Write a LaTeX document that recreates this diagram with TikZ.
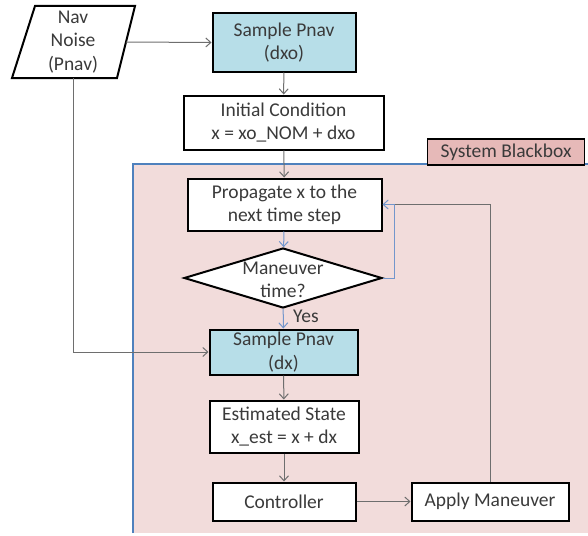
\documentclass[tikz,border=0pt]{standalone}
\usepackage{fontspec}
\setmainfont{Carlito}
\usetikzlibrary{arrows.meta,shapes.geometric}
\definecolor{txtc}{HTML}{3A3A3A}
\definecolor{sampfill}{HTML}{B7DEE8}
\definecolor{bbfill}{HTML}{F2DCDB}
\definecolor{bblabel}{HTML}{E6B9B8}
\definecolor{bbline}{HTML}{4F81BD}
\definecolor{bluecon}{HTML}{7396CC}
\definecolor{graycon}{HTML}{6E6E6E}
\begin{document}
\begin{tikzpicture}[x=1pt,y=-1pt,
  txt/.style={text=txtc, font=\fontsize{19.5}{23.3}\selectfont, align=center, inner sep=0pt},
  box/.style={txt, draw=black, line width=2pt, fill=white, rectangle},
  sampbox/.style={box, fill=sampfill},
  decbox/.style={diamond, draw=black, line width=2pt, fill=white, inner sep=0pt},
  arr/.style={draw=graycon, line width=1pt, -{Straight Barb[length=5pt,width=9pt]}},
  barr/.style={draw=bluecon, line width=1pt, -{Straight Barb[length=5pt,width=9pt]}},
  gline/.style={draw=graycon, line width=1pt}
]
\useasboundingbox (0,0) rectangle (588,535);

% blackbox region
\fill[bbfill] (133,164) rectangle (588,533);
\draw[bbline, line width=1.5pt] (133,533) -- (133,164) -- (588,164);
\node[box, fill=bblabel, line width=1.5pt, minimum width=157pt, minimum height=26pt] (bbl) at (506,152) {System Blackbox};

% nav noise parallelogram
\draw[line width=2pt, fill=white] (35,6) -- (135,6) -- (117,78) -- (12,78) -- cycle;
\node[txt] (nav) at (73,42) {Nav\\Noise\\(Pnav)};
\coordinate (navE) at (126,42);
\coordinate (navS) at (73,78);

% nodes
\node[sampbox, minimum width=143pt, minimum height=58pt] (s0) at (284,42.5) {Sample Pnav\\(dxo)};
\node[box, minimum width=200pt, minimum height=54pt] (ic) at (283.5,122.5) {Initial Condition\\x = xo\_NOM + dxo};
\node[box, minimum width=194pt, minimum height=52pt] (pr) at (284.5,204.5) {Propagate x to the\\next time step};
\node[decbox, minimum width=198pt, minimum height=60pt] (dia) at (283,278) {};
\node[txt] (diat) at (283,280) {Maneuver\\time?};
\node[sampbox, minimum width=148pt, minimum height=45pt] (s1) at (283.5,352) {Sample Pnav\\(dx)};
\node[box, minimum width=149pt, minimum height=52pt] (es) at (284,426.5) {Estimated State\\x\_est = x + dx};
\node[box, minimum width=143pt, minimum height=38pt] (co) at (284,501.5) {Controller};
\node[box, minimum width=157pt, minimum height=38pt] (ap) at (490,501.5) {Apply Maneuver};
\node[txt, anchor=west] (yes) at (293,316) {Yes};

% connectors
\draw[arr] (navE) -- (s0.west);
\draw[arr] (navS) |- (s1.west);
\draw[arr] (s0) -- (ic);
\draw[arr] (ic) -- (pr);
\draw[barr] (pr) -- (dia);
\draw[barr] (dia) -- (s1);
\coordinate (loopc) at (394,204.5);
\draw[gline] (ap.north) |- (loopc);
\draw[barr] (dia.east) -| (loopc) -- (pr.east);
\draw[arr] (s1) -- (es);
\draw[arr] (es) -- (co);
\draw[arr] (co) -- (ap);
\end{tikzpicture}
\end{document}
